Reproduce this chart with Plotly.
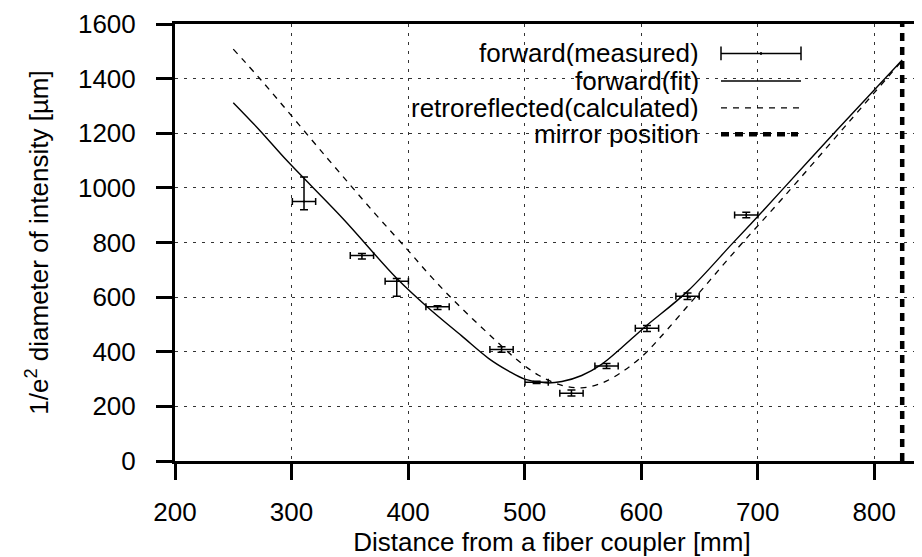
import plotly.graph_objects as go

# ---------------- data ----------------
meas_x = [310.7, 360.4, 390.3, 425.3, 480.2, 510.3, 540.2, 570.3, 605.0, 639.8, 690.2]
meas_y = [950, 752, 658, 565, 408, 288, 248, 348, 486, 603, 901]
meas_xerr = [10, 10, 10, 10, 10, 10, 10, 10, 10, 10, 10]
meas_yerr_plus = [90, 8, 10, 3, 10, 4, 12, 9, 10, 12, 10]
meas_yerr_minus = [30, 12, 55, 10, 10, 4, 10, 9, 12, 12, 10]

fit_x = [250, 272, 296, 344, 390, 417, 446, 469, 486, 500, 518, 532, 549, 566, 583,
         603, 640, 678, 700, 720, 768, 800, 824]
fit_y = [1312, 1214, 1100, 888, 670, 562, 458, 376, 330, 300, 286, 291, 313, 354, 414,
         490, 622, 795, 895, 988, 1212, 1358, 1468]

retro_x = [250, 274, 330, 372, 400, 417, 435, 455, 475, 492, 512, 532, 549, 566, 586,
           603, 615, 649, 683, 722, 778, 824]
retro_y = [1508, 1394, 1112, 904, 771, 688, 606, 522, 442, 376, 314, 277, 268, 285, 333,
           392, 446, 612, 780, 965, 1240, 1466]

mirror_position = 824
y_span = [0, 1600]

x_ticks = [200, 300, 400, 500, 600, 700, 800]
y_ticks = [0, 200, 400, 600, 800, 1000, 1200, 1400, 1600]

legend_labels = ["forward(measured)", "forward(fit)",
                 "retroreflected(calculated)", "mirror position"]

# ---------------- layout constants ----------------
W, H = 922, 557
ML, MR, MT, MB = 167, 1, 12, 104
PW, PH = W - ML - MR, H - MT - MB
FONT = "Liberation Sans, Arial, Helvetica, sans-serif"
FS = 26


def px(xp):
    return (xp - ML) / PW


def py(yp):
    return 1 - (yp - MT) / PH


fig = go.Figure()

fig.add_trace(go.Scatter(
    x=fit_x, y=fit_y, mode="lines", line=dict(color="black", width=1.4, shape="spline"),
    name=legend_labels[1], showlegend=False, hoverinfo="skip"))

fig.add_trace(go.Scatter(
    x=retro_x, y=retro_y, mode="lines",
    line=dict(color="black", width=1.3, dash="6px,6px", shape="spline"),
    name=legend_labels[2], showlegend=False, hoverinfo="skip"))

fig.add_trace(go.Scatter(
    x=meas_x, y=meas_y, mode="markers",
    marker=dict(size=2, color="black"),
    error_x=dict(type="data", array=meas_xerr, color="black", thickness=1.5, width=3.5),
    error_y=dict(type="data", symmetric=False, array=meas_yerr_plus,
                 arrayminus=meas_yerr_minus, color="black", thickness=1.5, width=4),
    name=legend_labels[0], showlegend=False))

fig.add_trace(go.Scatter(
    x=[mirror_position, mirror_position], y=y_span, mode="lines",
    line=dict(color="black", width=4.5, dash="8px,6px"),
    name=legend_labels[3], showlegend=False, hoverinfo="skip"))

# ---------------- gnuplot-style key (text left, sample right) ----------------
rows = [41.7, 69.5, 96.7, 123.3]
text_right = 693
s0, s1 = 713, 793
shapes = []
annotations = []
for lab, yr in zip(legend_labels, rows):
    annotations.append(dict(
        xref="paper", yref="paper", x=px(text_right), y=py(yr), text=lab,
        showarrow=False, xanchor="right", yanchor="middle", height=26,
        font=dict(family=FONT, size=FS, color="black")))

# errorbar sample
yr = rows[0]
shapes.append(dict(type="line", xref="paper", yref="paper", x0=px(s0), x1=px(s1),
                   y0=py(yr), y1=py(yr), line=dict(color="black", width=1.5)))
for xs in (s0, s1):
    shapes.append(dict(type="line", xref="paper", yref="paper", x0=px(xs), x1=px(xs),
                       y0=py(yr - 7), y1=py(yr + 7), line=dict(color="black", width=1.5)))
shapes.append(dict(type="line", xref="paper", yref="paper", x0=px((s0 + s1) / 2),
                   x1=px((s0 + s1) / 2), y0=py(yr - 1.5), y1=py(yr + 1.5),
                   line=dict(color="black", width=1.5)))
# fit sample
yr = rows[1]
shapes.append(dict(type="line", xref="paper", yref="paper", x0=px(s0), x1=px(s1),
                   y0=py(yr), y1=py(yr), line=dict(color="black", width=1.4)))
# retro sample
yr = rows[2]
shapes.append(dict(type="line", xref="paper", yref="paper", x0=px(s0), x1=px(s1),
                   y0=py(yr), y1=py(yr), line=dict(color="black", width=1.3, dash="6px,6px")))
# mirror sample
yr = rows[3]
shapes.append(dict(type="line", xref="paper", yref="paper", x0=px(s0), x1=px(s1 - 3),
                   y0=py(yr), y1=py(yr), line=dict(color="black", width=4.5, dash="8px,6px")))

axis_common = dict(
    showline=True, linecolor="black", linewidth=3,
    ticks="outside", ticklen=16, tickwidth=2.5, tickcolor="black",
    showgrid=True, gridcolor="#333333", gridwidth=1, griddash="3px,6px",
    zeroline=False, ticklabeloverflow="allow",
    tickfont=dict(family=FONT, size=FS, color="black"),
)

fig.update_layout(
    width=W, height=H,
    margin=dict(l=ML, r=MR, t=MT, b=MB, pad=0),
    paper_bgcolor="white", plot_bgcolor="white",
    font=dict(family=FONT, size=FS, color="black"),
    showlegend=False,
    shapes=shapes, annotations=annotations,
    xaxis=dict(range=[200, 847], tickvals=x_ticks, mirror=True,
               ticklabelstandoff=10,
               title=dict(text="Distance from a fiber coupler [mm]",
                          font=dict(family=FONT, size=FS), standoff=4),
               **axis_common),
    yaxis=dict(range=[0, 1600], tickvals=y_ticks, mirror=False,
               ticklabelstandoff=15,
               title=dict(text="1/e<sup>2</sup> diameter of intensity [µm]",
                          font=dict(family=FONT, size=FS), standoff=22),
               **axis_common),
)

fig.write_html("out.html")
